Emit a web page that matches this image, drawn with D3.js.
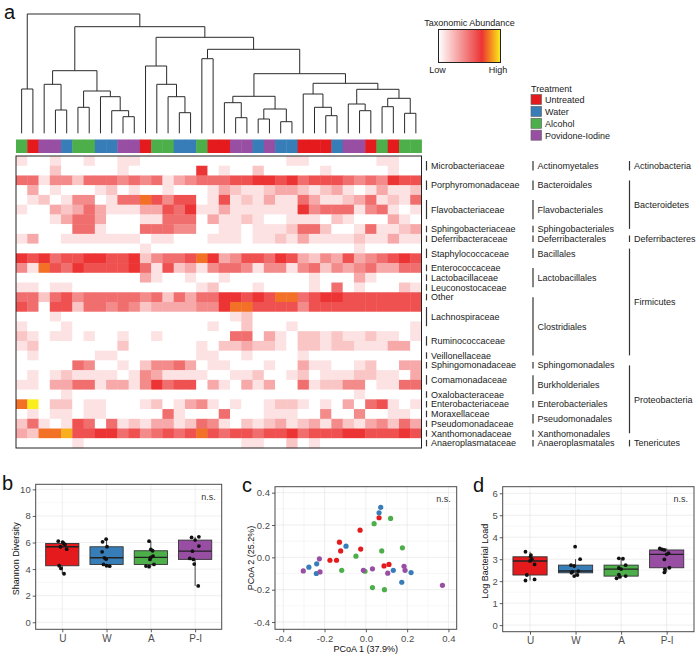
<!DOCTYPE html>
<html><head><meta charset="utf-8">
<script src="https://cdn.jsdelivr.net/npm/d3@7"></script>
<style>
body{margin:0;background:#fff}
svg{display:block}
text{font-family:"Liberation Sans",Arial,Helvetica,sans-serif}
</style>
</head><body>
<svg id="chart" width="696" height="655"></svg>
<script>
// ---------------- DATA ----------------
const treatmentKeys   = ["U","W","A","P"];
const treatmentNames  = ["Untreated","Water","Alcohol","Povidone-Iodine"];
const treatmentColors = ["#E41A1C","#377EB8","#4DAF4A","#984EA3"];
const groupLabels     = ["U","W","A","P-I"];

// treatment of each sample, in dendrogram leaf order
const sampleTreatment = ["A","U","P","P","W","A","A","W","W","P","P","U","A","A","W","W","A","U",
                         "U","P","P","W","P","W","W","U","U","U","W","P","P","U","A","U","A","A"];

// hierarchical clustering merges (R style: negative = leaf, positive = earlier merge), height
const dendroMerges = [
  [-10,-11,1.66],[-9,1,2.26],[-8,2,3.66],[-6,-7,2.60],[4,3,4.23],[-4,-5,2.33],[-3,6,4.90],[7,5,6.26],
  [-1,-2,4.43],[-15,-16,2.06],[-14,10,3.66],[-13,11,4.90],[-12,12,6.73],[-17,-18,7.46],
  [-20,-21,1.56],[-19,15,3.06],[-22,-23,1.43],[-24,-25,1.16],[17,18,2.43],[16,19,3.70],
  [-28,-29,1.76],[-27,21,2.60],[-26,22,3.93],[-31,-32,2.26],[-30,24,2.93],[-33,-34,2.66],
  [-35,-36,2.00],[26,27,3.50],[25,28,4.40],[23,29,5.00],[20,30,5.96],[14,31,8.40],[13,32,9.60],
  [8,33,10.66],[9,34,11.93]
];

// relative abundance levels (0 = low ... 10 = high), 30 taxa x 36 samples
const abundance = [
 [1,0,0,1,0,0,1,0,0,1, 1,0,0,0,0,0,0,0,0,0, 0,0,0,0,1,1,0,0,0,0, 0,0,1,1,0,0],
 [0,0,0,2,0,0,0,0,0,1, 0,0,0,0,0,0,7,0,1,0, 0,2,0,0,0,0,0,1,0,0, 0,0,0,1,0,0],
 [5,5,1,4,4,2,5,5,5,4, 5,4,5,1,3,4,5,5,5,6, 6,7,7,6,7,5,6,6,6,5, 4,5,4,7,6,6],
 [0,3,0,1,0,0,0,1,2,0, 1,0,0,1,0,0,0,1,3,2, 1,1,2,3,3,2,1,2,3,1, 0,1,3,1,1,2],
 [0,1,2,0,1,4,4,0,1,5, 5,8,6,4,6,6,0,1,6,1, 2,1,3,1,1,5,3,1,1,2, 3,5,1,2,1,5],
 [1,0,0,3,2,3,5,3,1,1, 1,3,3,6,5,7,1,1,3,1, 1,1,1,1,1,7,4,5,5,5, 1,4,5,1,0,1],
 [0,0,0,1,3,5,5,3,0,0, 0,1,1,5,5,5,0,3,1,1, 2,1,0,0,1,1,1,0,2,1, 0,0,0,3,1,0],
 [0,0,0,0,0,5,5,1,0,0, 0,5,5,5,4,4,0,0,1,1, 0,1,1,1,2,5,5,2,0,0, 1,5,1,1,2,3],
 [1,3,0,0,1,1,1,1,1,1, 1,0,1,1,0,0,0,1,1,1, 0,1,1,2,1,3,1,1,1,1, 2,1,1,3,1,1],
 [0,0,0,0,0,0,0,0,0,0, 0,1,0,0,0,0,0,0,0,0, 0,0,0,0,0,0,0,0,0,0, 1,0,0,0,0,0],
 [7,6,7,5,6,6,7,7,6,6, 7,2,4,5,5,6,8,7,3,4, 6,6,5,7,6,3,2,4,3,6, 3,4,5,6,7,6],
 [4,1,8,6,5,7,6,6,6,6, 7,5,1,6,2,3,1,4,5,5, 4,1,4,4,1,4,5,2,4,3, 4,5,3,3,5,5],
 [0,0,0,0,0,0,0,0,0,0, 0,3,1,0,0,1,0,0,1,0, 0,0,0,0,0,0,1,0,0,0, 3,1,0,0,0,0],
 [1,1,0,1,1,0,0,0,0,0, 0,0,0,0,0,0,1,2,0,0, 0,1,0,0,0,0,1,0,5,0, 1,0,0,0,2,1],
 [5,5,2,5,6,4,5,5,5,5, 5,4,5,2,5,3,5,5,7,7, 6,7,6,8,8,5,6,7,7,6, 6,6,6,6,6,6],
 [6,5,0,6,6,2,5,5,4,5, 4,2,3,3,3,3,4,4,7,8, 8,6,6,6,6,4,6,6,6,6, 6,6,6,6,6,6],
 [0,0,0,1,0,0,0,0,0,0, 0,0,0,0,0,0,0,0,0,1, 2,0,0,0,0,0,0,0,0,0, 0,0,0,0,0,0],
 [1,0,0,0,1,0,0,0,0,0, 0,0,0,0,0,0,0,1,0,0, 2,0,0,0,1,0,0,0,0,0, 0,0,0,0,0,1],
 [2,1,0,1,1,0,1,0,0,1, 0,0,1,0,0,0,0,0,0,5, 5,0,3,1,0,2,2,1,2,1, 1,2,1,1,0,1],
 [1,2,0,0,0,0,0,0,0,2, 0,0,0,0,0,0,1,0,2,2, 3,2,2,1,0,2,2,1,2,2, 1,1,1,3,3,0],
 [0,1,0,0,0,0,0,1,1,0, 0,0,0,0,0,0,1,1,0,0, 1,0,0,0,0,1,0,0,0,0, 0,0,0,0,0,0],
 [0,0,0,0,0,5,4,0,0,1, 0,2,4,4,5,3,0,1,1,0, 0,0,1,0,0,3,1,1,0,0, 1,2,0,0,3,3],
 [0,1,0,1,2,1,1,1,1,0, 1,4,3,1,1,1,1,0,0,1, 1,2,0,0,1,2,0,1,1,1, 2,2,1,1,0,3],
 [1,1,0,3,3,5,5,1,3,3, 1,4,7,5,6,6,0,3,1,0, 3,1,3,0,0,5,1,2,2,4, 4,0,1,1,5,5],
 [0,0,0,0,1,0,0,0,0,0, 0,0,0,0,0,0,0,0,0,0, 0,0,0,0,0,0,0,0,0,0, 1,0,0,0,0,0],
 [8,10,0,2,2,0,1,1,0,0, 0,1,2,0,1,3,4,1,0,1, 0,0,1,2,2,1,0,1,0,3, 0,5,6,1,0,1],
 [0,1,0,1,1,0,1,1,0,0, 0,0,0,5,1,0,0,0,5,0, 0,0,1,1,1,0,0,4,0,0, 4,0,0,1,1,0],
 [2,5,1,0,1,6,5,0,5,1, 2,1,3,3,1,2,5,4,1,0, 2,1,2,3,1,2,3,1,4,2, 1,3,4,2,5,3],
 [3,2,8,8,9,6,6,7,7,5, 6,4,5,6,5,6,8,6,5,6, 6,5,6,6,7,5,6,6,6,7, 7,6,6,6,7,6],
 [0,0,0,0,0,1,0,0,0,0, 0,0,0,0,0,0,0,0,0,0, 1,1,0,0,2,0,1,0,0,0, 0,0,0,0,0,0]
];

const familyNames = ["Microbacteriaceae","Porphyromonadaceae","Flavobacteriaceae","Sphingobacteriaceae",
  "Deferribacteraceae","Staphylococcaceae","Enterococcaceae","Lactobacillaceae","Leuconostocaceae","Other",
  "Lachnospiraceae","Ruminococcaceae","Veillonellaceae","Sphingomonadaceae","Comamonadaceae",
  "Oxalobacteraceae","Enterobacteriaceae","Moraxellaceae","Pseudomonadaceae","Xanthomonadaceae","Anaeroplasmataceae"];
const familyRowCounts = [2,2,3,1,1,2,1,1,1,1,3,2,1,1,2,1,1,1,1,1,1];
const orderNames = ["Actinomyetales","Bacteroidales","Flavobacteriales","Sphingobacteriales","Deferribacterales",
  "Bacillales","Lactobacillales","Clostridiales","Sphingomonadales","Burkholderiales","Enterobacteriales",
  "Pseudomonadales","Xanthomonadales","Anaeroplasmatales"];
const orderRowCounts = [2,2,3,1,1,2,3,7,1,3,1,2,1,1];
const phylumNames = ["Actinobacteria","Bacteroidetes","Deferribacteres","Firmicutes","Proteobacteria","Tenericutes"];
const phylumRowCounts = [2,6,1,12,8,1];

// panel b: Shannon diversity per group (U, W, A, P-I)
const shannon = [
  [6.1,6.03,5.93,5.85,5.68,5.5,4.25,4.05,3.65],
  [6.25,6.05,5.68,5.3,4.85,4.75,4.35,4.25,4.22],
  [6.1,5.48,5.38,4.98,4.88,4.73,4.35,4.23,4.18],
  [6.43,6.38,6.18,5.73,5.35,4.8,4.73,4.38,2.73]
];
const shannonJitter = [
  [-0.09,0.01,0.03,0.06,-0.04,0.1,-0.07,-0.03,0.04],
  [-0.01,-0.09,0.01,-0.1,-0.05,-0.01,-0.07,0,0.07],
  [-0.04,0,0.04,0.05,0,-0.02,0.07,-0.11,-0.04],
  [0.085,-0.08,0,0.085,-0.06,-0.12,-0.04,-0.02,0.07]
];
const shannonTicks = [0,2,4,6,8,10];

// panel c: PCoA coordinates
const pcoa1 = {
  U:[0.064,-0.028,-0.128,-0.122,-0.025,-0.174,-0.142,0.088,0.112],
  W:[0.072,0.064,-0.096,-0.276,-0.238,-0.24,0.133,0.219,0.174],
  A:[0.04,0.12,0.077,0.177,-0.048,-0.117,-0.004,0.032,0.09],
  P:[-0.303,-0.225,-0.222,-0.012,0.032,0.106,0.185,0.19,0.371]
};
const pcoa2 = {
  U:[0.245,0.168,0.094,0.04,0.051,-0.018,-0.018,-0.053,-0.044],
  W:[0.309,0.276,0.069,-0.061,-0.040,-0.10,-0.08,-0.094,-0.154],
  A:[0.208,0.241,0.04,0.059,0.007,-0.08,-0.086,-0.187,-0.2],
  P:[-0.084,-0.009,-0.09,-0.08,-0.071,-0.098,-0.055,-0.08,-0.173]
};
const pcoaTicks = [-0.4,-0.2,0,0.2,0.4];

// panel d: log bacterial load per group
const bacterialLoad = [
  [3.34,3.19,3.11,3.0,2.92,2.76,2.28,2.08,2.03],
  [3.57,3.0,2.73,2.69,2.43,2.46,2.38,2.28,2.23],
  [3.04,3.02,2.73,2.6,2.55,2.3,2.23,2.2,2.13],
  [3.49,3.45,3.42,3.27,3.22,2.99,2.61,2.54,2.4]
];
const loadJitter = [
  [-0.1,0.02,0.01,0.04,0,0.1,-0.07,0.1,-0.1],
  [-0.01,0.1,-0.1,-0.03,-0.07,0.06,-0.09,0.04,-0.03],
  [-0.05,0.04,0.1,-0.05,0,-0.05,0.1,-0.03,-0.1],
  [-0.15,-0.1,-0.05,0.04,0,-0.05,0.06,-0.04,-0.05]
];
const loadTicks = [0,1,2,3,4,5,6];

// ---------------- DRAW ----------------
const svg = d3.select("#chart");
const tcol = d => treatmentColors[treatmentKeys.indexOf(d)];

// panel letters
const letters = [["a",4,19],["b",2,490],["c",242,492],["d",473,492]];
svg.selectAll("text.letter").data(letters).join("text")
  .attr("class","letter").attr("x",d=>d[1]).attr("y",d=>d[2])
  .attr("font-size",20).attr("fill","#111").text(d=>d[0]);

// heatmap scales
const nS = sampleTreatment.length, nT = abundance.length;
const xH = d3.scaleBand().domain(d3.range(nS)).range([16,421.5]);
const yH = d3.scaleBand().domain(d3.range(nT)).range([156,448]);
const heat = d3.scaleLinear().domain([0,7,8.5,10])
  .range(["#ffffff","#ec3434","#f5901f","#fbee1f"]).clamp(true);

// dendrogram
const yD = d3.scaleLinear().domain([0,d3.max(dendroMerges,d=>d[2])]).range([133.3,14]);
const dNodes = [];
const dPaths = [];
const nodePos = r => r<0 ? {x:xH(-r-1)+xH.bandwidth()/2, y:yD(0)} : dNodes[r-1];
dendroMerges.forEach(([a,b,h])=>{
  const A = nodePos(a), B = nodePos(b), yy = yD(h);
  dNodes.push({x:(A.x+B.x)/2, y:yy});
  dPaths.push(`M${A.x},${A.y}V${yy}H${B.x}V${B.y}`);
});
svg.append("g").selectAll("path").data(dPaths).join("path")
  .attr("d",d=>d).attr("fill","none").attr("stroke","#2a2a2a").attr("stroke-width",1);

// treatment color bar
svg.append("g").selectAll("rect").data(sampleTreatment).join("rect")
  .attr("x",(d,i)=>xH(i)).attr("y",139.5).attr("width",xH.bandwidth()+0.4).attr("height",13.5)
  .attr("fill",d=>tcol(d));

// heatmap cells
const cells = [];
abundance.forEach((row,r)=>row.forEach((v,c)=>cells.push({r,c,v})));
svg.append("g").selectAll("rect").data(cells).join("rect")
  .attr("x",d=>xH(d.c)).attr("y",d=>yH(d.r))
  .attr("width",xH.bandwidth()+0.4).attr("height",yH.bandwidth()+0.4)
  .attr("fill",d=>heat(d.v));
svg.append("rect").attr("x",16).attr("y",156).attr("width",405.5).attr("height",292)
  .attr("fill","none").attr("stroke","#222").attr("stroke-width",1);

// taxonomy labels
function taxLabels(names, counts, barX){
  let start = 0;
  const items = names.map((n,i)=>{ const s=start; start+=counts[i]; return {n, s, k:counts[i]}; });
  const g = svg.append("g");
  items.forEach(it=>{
    const top = yH(it.s), bot = yH(it.s+it.k-1)+yH.bandwidth();
    const cy = (top+bot)/2;
    const len = Math.max(6.5, it.k*yH.bandwidth()-10);
    g.append("line").attr("x1",barX).attr("x2",barX).attr("y1",cy-len/2).attr("y2",cy+len/2)
      .attr("stroke","#333").attr("stroke-width",1.2);
    g.append("text").attr("x",barX+4.5).attr("y",cy+3.2).attr("font-size",9).attr("fill","#222").text(it.n);
  });
}
taxLabels(familyNames, familyRowCounts, 426.5);
taxLabels(orderNames, orderRowCounts, 533);
taxLabels(phylumNames, phylumRowCounts, 629.5);

// abundance legend
const defs = svg.append("defs");
const grad = defs.append("linearGradient").attr("id","heatgrad");
d3.range(0,10.01,0.5).forEach(v=>grad.append("stop").attr("offset",(v/10*100)+"%").attr("stop-color",heat(v)));
svg.append("text").attr("x",469.5).attr("y",25.5).attr("text-anchor","middle").attr("font-size",9).attr("fill","#222").text("Taxonomic Abundance");
svg.append("rect").attr("x",438.5).attr("y",29.5).attr("width",62).attr("height",33)
  .attr("fill","url(#heatgrad)").attr("stroke","#222").attr("stroke-width",1);
svg.append("text").attr("x",437.5).attr("y",73).attr("text-anchor","middle").attr("font-size",9).attr("fill","#222").text("Low");
svg.append("text").attr("x",498).attr("y",73).attr("text-anchor","middle").attr("font-size",9).attr("fill","#222").text("High");

// treatment legend
svg.append("text").attr("x",531).attr("y",91.5).attr("font-size",9).attr("fill","#222").text("Treatment");
const tl = svg.append("g").selectAll("g").data(treatmentNames).join("g")
  .attr("transform",(d,i)=>`translate(531,${94.5+i*11.9})`);
tl.append("rect").attr("width",10.5).attr("height",10).attr("fill",(d,i)=>treatmentColors[i])
  .attr("stroke","#666").attr("stroke-width",0.7);
tl.append("text").attr("x",14).attr("y",8.4).attr("font-size",9).attr("fill","#222").text(d=>d);

// ---------- generic ggplot-like helpers ----------
function frame(g, x0,x1,y0,y1){
  g.append("rect").attr("x",x0).attr("y",y0).attr("width",x1-x0).attr("height",y1-y0)
    .attr("fill","none").attr("stroke","#4a4a4a").attr("stroke-width",1);
}
function styleAxis(sel, size){
  sel.select(".domain").remove();
  sel.selectAll(".tick line").attr("stroke","#333").attr("stroke-width",0.8);
  sel.selectAll(".tick text").attr("fill","#4d4d4d").attr("font-size",size)
    .attr("font-family","'Liberation Sans',Arial,sans-serif");
}
function hGrid(g, ys, vals, x0, x1, col){
  g.append("g").selectAll("line").data(vals).join("line")
    .attr("x1",x0).attr("x2",x1).attr("y1",d=>ys(d)).attr("y2",d=>ys(d))
    .attr("stroke",col).attr("stroke-width",0.7);
}
function vGrid(g, xs, vals, y0, y1, col){
  g.append("g").selectAll("line").data(vals).join("line")
    .attr("y1",y0).attr("y2",y1).attr("x1",d=>xs(d)).attr("x2",d=>xs(d))
    .attr("stroke",col).attr("stroke-width",0.7);
}

function boxPanel(c){
  const g = svg.append("g");
  const xs = d3.scaleLinear().domain([0.4,4.6]).range([c.x0,c.x1]);
  const ys = d3.scaleLinear().domain(c.domain).range([c.y1,c.y0]);
  const step = c.ticks[1]-c.ticks[0];
  const minor = c.ticks.slice(0,-1).map(t=>t+step/2);
  hGrid(g, ys, minor, c.x0, c.x1, "#f3f3f3");
  hGrid(g, ys, c.ticks, c.x0, c.x1, "#e6e6e6");
  vGrid(g, xs, [1,2,3,4], c.y0, c.y1, "#e6e6e6");
  c.values.forEach((vals,i)=>{
    const s = vals.slice().sort(d3.ascending);
    const q1 = d3.quantile(s,0.25), med = d3.quantile(s,0.5), q3 = d3.quantile(s,0.75);
    const iqr = q3-q1;
    const hi = d3.max(s.filter(v=>v<=q3+1.5*iqr)), lo = d3.min(s.filter(v=>v>=q1-1.5*iqr));
    const cx = xs(i+1), hw = 0.375*(xs(2)-xs(1));
    g.append("line").attr("x1",cx).attr("x2",cx).attr("y1",ys(q3)).attr("y2",ys(hi)).attr("stroke","#333").attr("stroke-width",0.9);
    g.append("line").attr("x1",cx).attr("x2",cx).attr("y1",ys(q1)).attr("y2",ys(lo)).attr("stroke","#333").attr("stroke-width",0.9);
    g.append("rect").attr("x",cx-hw).attr("y",ys(q3)).attr("width",2*hw).attr("height",ys(q1)-ys(q3))
      .attr("fill",treatmentColors[i]).attr("stroke","#333").attr("stroke-width",0.9);
    g.append("line").attr("x1",cx-hw).attr("x2",cx+hw).attr("y1",ys(med)).attr("y2",ys(med)).attr("stroke","#222").attr("stroke-width",1.4);
    g.append("g").selectAll("circle").data(vals).join("circle")
      .attr("cx",(v,j)=>xs(i+1+c.jitter[i][j])).attr("cy",v=>ys(v)).attr("r",1.9).attr("fill","#111");
  });
  frame(g, c.x0,c.x1,c.y0,c.y1);
  const ay = g.append("g").attr("transform",`translate(${c.x0},0)`)
    .call(d3.axisLeft(ys).tickValues(c.ticks).tickFormat(d3.format("d")).tickSize(3).tickPadding(2));
  styleAxis(ay, 9.5);
  const ax = g.append("g").attr("transform",`translate(0,${c.y1})`)
    .call(d3.axisBottom(xs).tickValues([1,2,3,4]).tickFormat(d=>groupLabels[d-1]).tickSize(3).tickPadding(2.5));
  styleAxis(ax, 10);
  g.append("text").attr("transform",`translate(${c.titleX},${(c.y0+c.y1)/2+2}) rotate(-90)`)
    .attr("text-anchor","middle").attr("font-size",9).attr("fill","#111").text(c.title);
  g.append("text").attr("x",c.x1-6).attr("y",c.y0+15.5).attr("text-anchor","end")
    .attr("font-size",9).attr("fill","#333").text("n.s.");
}

boxPanel({x0:35.7,x1:221.7,y0:484.3,y1:629.3,domain:[-0.53,10.38],ticks:shannonTicks,
  values:shannon,jitter:shannonJitter,title:"Shannon Diversity",titleX:18.5});
boxPanel({x0:502.7,x1:694,y0:486.7,y1:631.7,domain:[-0.3,6.3],ticks:loadTicks,
  values:bacterialLoad,jitter:loadJitter,title:"Log Bacterial Load",titleX:487.5});

// panel c: PCoA scatter
(function(){
  const x0=275,x1=456.7,y0=486.7,y1=629.3;
  const g = svg.append("g");
  const xs = d3.scaleLinear().domain([-0.44,0.44]).range([x0,x1]);
  const ys = d3.scaleLinear().domain([-0.445,0.437]).range([y1,y0]);
  const minor = [-0.3,-0.1,0.1,0.3];
  hGrid(g, ys, minor, x0, x1, "#f3f3f3");
  vGrid(g, xs, minor, y0, y1, "#f3f3f3");
  hGrid(g, ys, pcoaTicks, x0, x1, "#e6e6e6");
  vGrid(g, xs, pcoaTicks, y0, y1, "#e6e6e6");
  const pts = [];
  treatmentKeys.forEach(k=>pcoa1[k].forEach((v,i)=>pts.push({k, x:v, y:pcoa2[k][i]})));
  g.append("g").selectAll("circle").data(pts).join("circle")
    .attr("cx",d=>xs(d.x)).attr("cy",d=>ys(d.y)).attr("r",2.6).attr("fill",d=>tcol(d.k));
  frame(g,x0,x1,y0,y1);
  const fmt = d => d.toFixed(1);
  const ay = g.append("g").attr("transform",`translate(${x0},0)`)
    .call(d3.axisLeft(ys).tickValues(pcoaTicks).tickFormat(fmt).tickSize(3).tickPadding(2));
  styleAxis(ay, 9.5);
  const ax = g.append("g").attr("transform",`translate(0,${y1})`)
    .call(d3.axisBottom(xs).tickValues(pcoaTicks).tickFormat(fmt).tickSize(3).tickPadding(2.5));
  styleAxis(ax, 9.5);
  g.append("text").attr("x",(x0+x1)/2).attr("y",652).attr("text-anchor","middle")
    .attr("font-size",9).attr("fill","#111").text("PCoA 1 (37.9%)");
  g.append("text").attr("transform",`translate(${253.5},${(y0+y1)/2}) rotate(-90)`)
    .attr("text-anchor","middle").attr("font-size",9).attr("fill","#111").text("PCoA 2 (25.2%)");
  g.append("text").attr("x",x1-6).attr("y",y0+15.5).attr("text-anchor","end")
    .attr("font-size",9).attr("fill","#333").text("n.s.");
})();
</script>
</body></html>
